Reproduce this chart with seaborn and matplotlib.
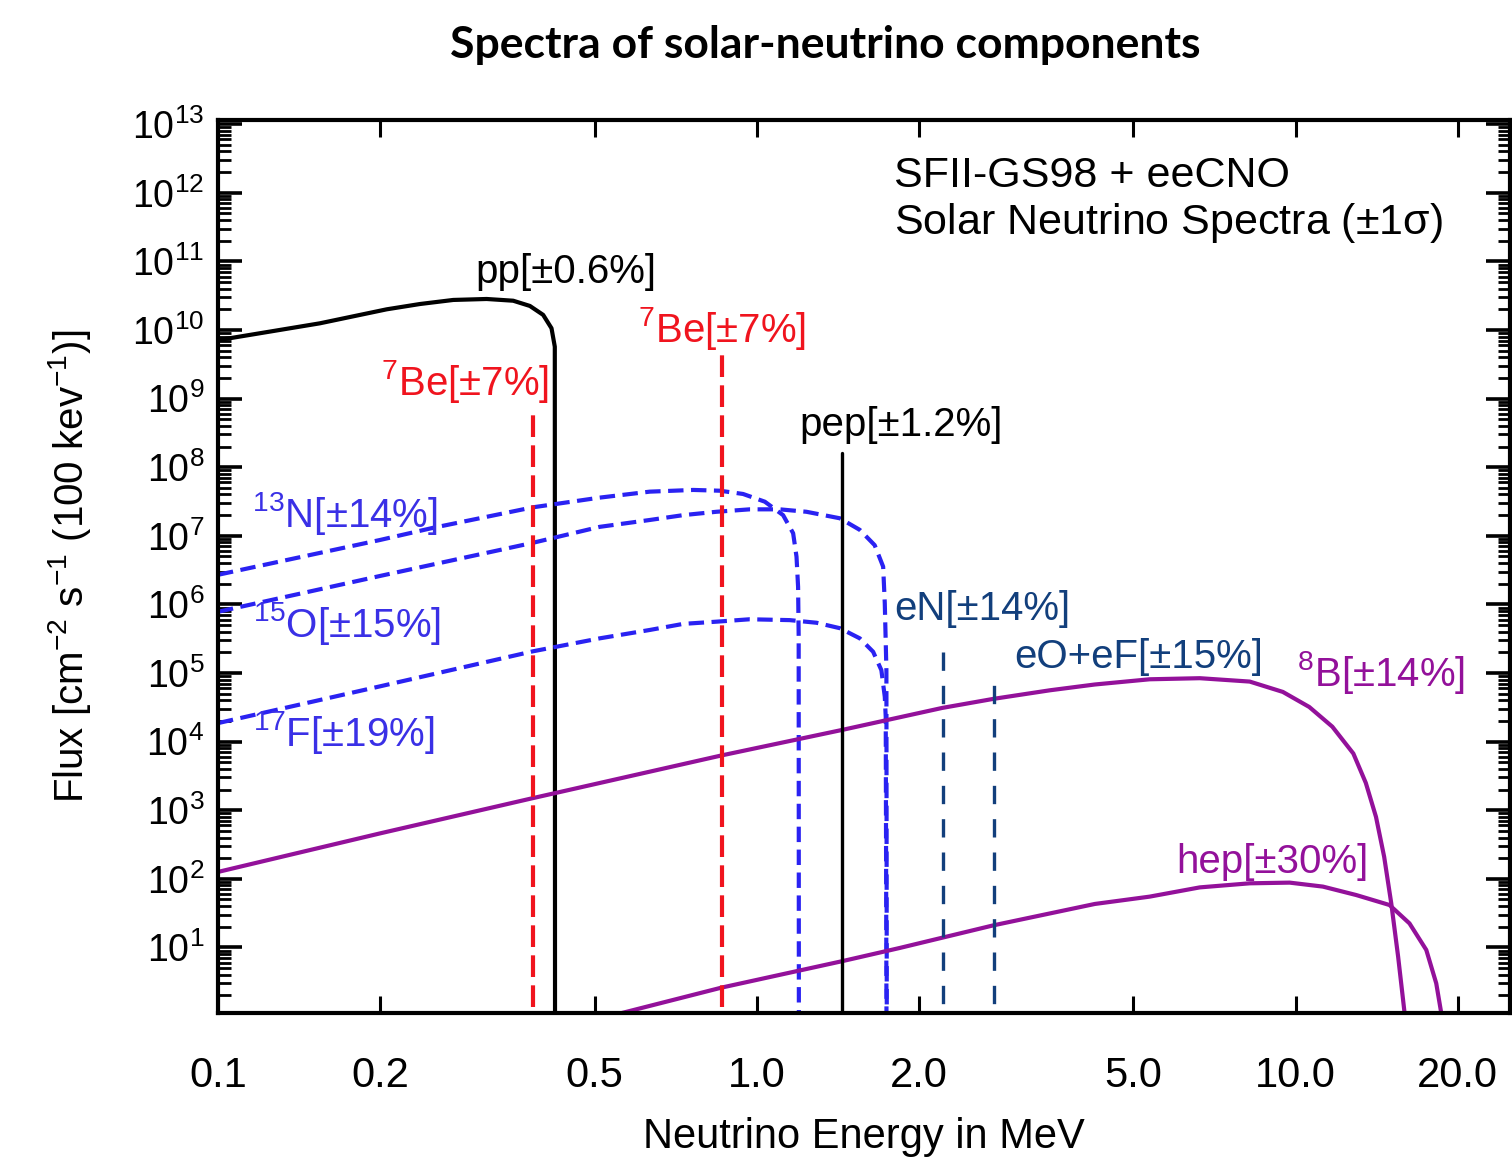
import numpy as np
import pandas as pd
import seaborn as sns
import matplotlib.pyplot as plt
from matplotlib.ticker import FixedLocator, FixedFormatter, LogLocator, NullLocator

# Continuous spectra (energy in MeV, flux per cm^2 s 100 keV)
pp_energy = [0.1, 0.1545, 0.2056, 0.237, 0.2733, 0.3152, 0.3531, 0.3792, 0.4013,
             0.4159, 0.4218, 0.4222]
pp_flux = [7.1e9, 1.25e10, 2.0e10, 2.39e10, 2.74e10, 2.83e10, 2.67e10, 2.24e10, 1.66e10,
           1.06e10, 5.7e9, 0.5]

n13_energy = [0.1, 0.2, 0.25, 0.384, 0.511, 0.633, 0.762, 0.854, 0.943, 1.035, 1.119,
              1.168, 1.185, 1.193, 1.196, 1.197]
n13_flux = [2.7e6, 8.7e6, 1.3e7, 2.6e7, 3.6e7, 4.4e7, 4.66e7, 4.54e7, 4.07e7, 3.14e7, 2.0e7,
            1.09e7, 4.95e6, 1.8e6, 3.4e5, 0.5]

o15_energy = [0.1, 0.2, 0.384, 0.511, 0.633, 0.730, 0.842, 0.970, 1.103, 1.236, 1.426,
              1.553, 1.655, 1.716, 1.728, 1.740, 1.743]
o15_flux = [7.8e5, 2.6e6, 7.9e6, 1.35e7, 1.7e7, 2.0e7, 2.24e7, 2.43e7, 2.43e7, 2.24e7, 1.8e7,
            1.22e7, 7.3e6, 3.55e6, 1.04e6, 1.1e5, 0.5]

f17_energy = [0.1, 0.2, 0.384, 0.511, 0.633, 0.730, 0.842, 0.970, 1.151, 1.291, 1.426,
              1.553, 1.644, 1.703, 1.728, 1.735, 1.741]
f17_flux = [1.86e4, 6.4e4, 2.07e5, 3.2e5, 4.24e5, 5.2e5, 5.6e5, 6.07e5, 5.9e5, 5.4e5, 4.5e5,
            3.2e5, 2.04e5, 1.1e5, 4.5e4, 2.3e4, 0.5]

b8_energy = [0.1, 0.2, 0.384, 0.861, 1.44, 2.21, 2.75, 3.5, 4.24, 5.36, 6.64, 8.22, 9.47,
             10.6, 11.7, 12.8, 13.5, 14.1, 14.6, 15.05, 15.5, 15.93, 16.0]
b8_flux = [126, 460, 1500, 6300, 1.48e4, 3.1e4, 4.2e4, 5.6e4, 6.8e4, 8.1e4, 8.4e4, 7.5e4, 5.3e4,
           3.2e4, 1.65e4, 6.7e3, 2.5e3, 800, 210, 44, 7.3, 1.12, 0.5]

hep_energy = [0.5, 0.56, 0.861, 1.44, 1.84, 2.75, 4.24, 5.36, 6.64, 8.22, 9.75, 11.24, 12.96,
              14.94, 16.27, 17.48, 18.24, 18.63, 18.7]
hep_flux = [0.8, 1.1, 2.6, 6.3, 9.8, 21, 43, 55, 75, 86, 88, 77, 58, 41.5, 22.4, 9.2, 3.0,
            1.12, 0.5]

# Mono-energetic lines (energy, peak flux)
be7_energy = [0.384, 0.862]
be7_flux = [5.8e8, 5.1e9]
pep_energy = [1.442]
pep_flux = [1.6e8]
ecno_energy = [2.22, 2.75]
ecno_flux = [2.6e5, 1.0e5]
line_floor = 0.5

xtick_values = [0.1, 0.2, 0.5, 1.0, 2.0, 5.0, 10.0, 20.0]
xtick_labels = ['0.1', '0.2', '0.5', '1.0', '2.0', '5.0', '10.0', '20.0']
ytick_values = [10.0 ** k for k in range(1, 14)]

RED = '#f0141e'
BLUE = '#2a22f2'
BLUE_TXT = '#3a30e6'
NAVY = '#123f7c'
PURPLE = '#93119a'

sns.set_theme(style='ticks')
plt.rcParams['font.family'] = ['Liberation Sans', 'DejaVu Sans']
plt.rcParams['mathtext.fontset'] = 'custom'
plt.rcParams['mathtext.rm'] = 'Liberation Sans'
plt.rcParams['mathtext.it'] = 'Liberation Sans:italic'
plt.rcParams['mathtext.default'] = 'regular'
for key in ['text.color', 'axes.labelcolor', 'xtick.color', 'ytick.color']:
    plt.rcParams[key] = 'black'

fig = plt.figure(figsize=(15.12, 11.65), dpi=100)
ax = fig.add_axes([218 / 1512, 152 / 1165, 1292 / 1512, 893 / 1165])

# Continuous spectra
curves = [
    (pp_energy, pp_flux, 'black', None),
    (n13_energy, n13_flux, BLUE, (3.7, 1.8)),
    (o15_energy, o15_flux, BLUE, (3.7, 1.8)),
    (f17_energy, f17_flux, BLUE, (3.7, 1.8)),
    (b8_energy, b8_flux, PURPLE, None),
    (hep_energy, hep_flux, PURPLE, None),
]
for e, f, c, dash in curves:
    df = pd.DataFrame({'energy': e, 'flux': f})
    sns.lineplot(data=df, x='energy', y='flux', ax=ax, color=c, lw=3,
                 estimator=None, sort=False)
    if dash is not None:
        ax.lines[-1].set_dashes(dash)

# Mono-energetic lines
for e, f in zip(be7_energy, be7_flux):
    sns.lineplot(x=[e, e], y=[line_floor, f], ax=ax, color=RED, lw=3,
                 estimator=None, sort=False)
    ax.lines[-1].set_dashes((5.2, 2.0))
for e, f in zip(pep_energy, pep_flux):
    sns.lineplot(x=[e, e], y=[line_floor, f], ax=ax, color='black', lw=2.4,
                 estimator=None, sort=False)
for e, f in zip(ecno_energy, ecno_flux):
    sns.lineplot(x=[e, e], y=[line_floor, f], ax=ax, color=NAVY, lw=2.4,
                 estimator=None, sort=False)
    ax.lines[-1].set_dashes((5.5, 4.5))

ax.set_xscale('log')
ax.set_yscale('log')
ax.set_xlim(0.1, 25)
ax.set_ylim(1.107, 1.15e13)

# Ticks
ax.xaxis.set_major_locator(FixedLocator(xtick_values))
ax.xaxis.set_major_formatter(FixedFormatter(xtick_labels))
ax.xaxis.set_minor_locator(NullLocator())
ax.yaxis.set_major_locator(FixedLocator(ytick_values))
ax.yaxis.set_minor_locator(LogLocator(base=10, subs=np.arange(2, 10), numticks=20))
ax.tick_params(axis='x', which='major', direction='in', top=True, bottom=True,
               length=12, width=2.2, labelsize=30, pad=31)
ax.tick_params(axis='y', which='major', direction='in', left=True, right=True,
               length=17, width=2.6, labelsize=27, pad=10)
ax.tick_params(axis='y', which='minor', direction='in', left=True, right=True,
               length=9, width=2.0, labelleft=False)
for s in ax.spines.values():
    s.set_linewidth(3)
    s.set_color('black')

ax.set_xlabel('Neutrino Energy in MeV', fontsize=30)
ax.set_ylabel(r'Flux [cm$^{-2}$ s$^{-1}$ (100 kev$^{-1}$)]', fontsize=29)
ax.xaxis.set_label_coords(0.5, -0.117)
ax.yaxis.set_label_coords(-0.097, 0.5)

# Annotations
labels = [
    (0.301, 7.0e10, 'pp[±0.6%]', 'black'),
    (0.601, 1.05e10, r'$^{7}$Be[±7%]', RED),
    (0.2006, 1.75e9, r'$^{7}$Be[±7%]', RED),
    (1.20, 4.1e8, 'pep[±1.2%]', 'black'),
    (0.1156, 2.08e7, r'$^{13}$N[±14%]', BLUE_TXT),
    (0.116, 5.2e5, r'$^{15}$O[±15%]', BLUE_TXT),
    (0.116, 1.38e4, r'$^{17}$F[±19%]', BLUE_TXT),
    (1.80, 8.6e5, 'eN[±14%]', NAVY),
    (3.01, 1.71e5, 'eO+eF[±15%]', NAVY),
    (10.04, 1.03e5, r'$^{8}$B[±14%]', PURPLE),
    (6.01, 176, 'hep[±30%]', PURPLE),
]
for x, y, s, c in labels:
    ax.text(x, y, s, color=c, fontsize=29, ha='left', va='center')

ax.text(1.80, 1.75e12, 'SFII-GS98 + eeCNO', fontsize=31, ha='left', va='center')
ax.text(1.80, 3.6e11, r'Solar Neutrino Spectra (±1$\sigma$)', fontsize=31,
        ha='left', va='center')

fig.text(825 / 1512, 1 - 45 / 1165, 'Spectra of solar-neutrino components',
         fontsize=32, fontweight='bold', family=['Lato', 'DejaVu Sans'],
         ha='center', va='center')

fig.savefig('out.png', dpi=100)
